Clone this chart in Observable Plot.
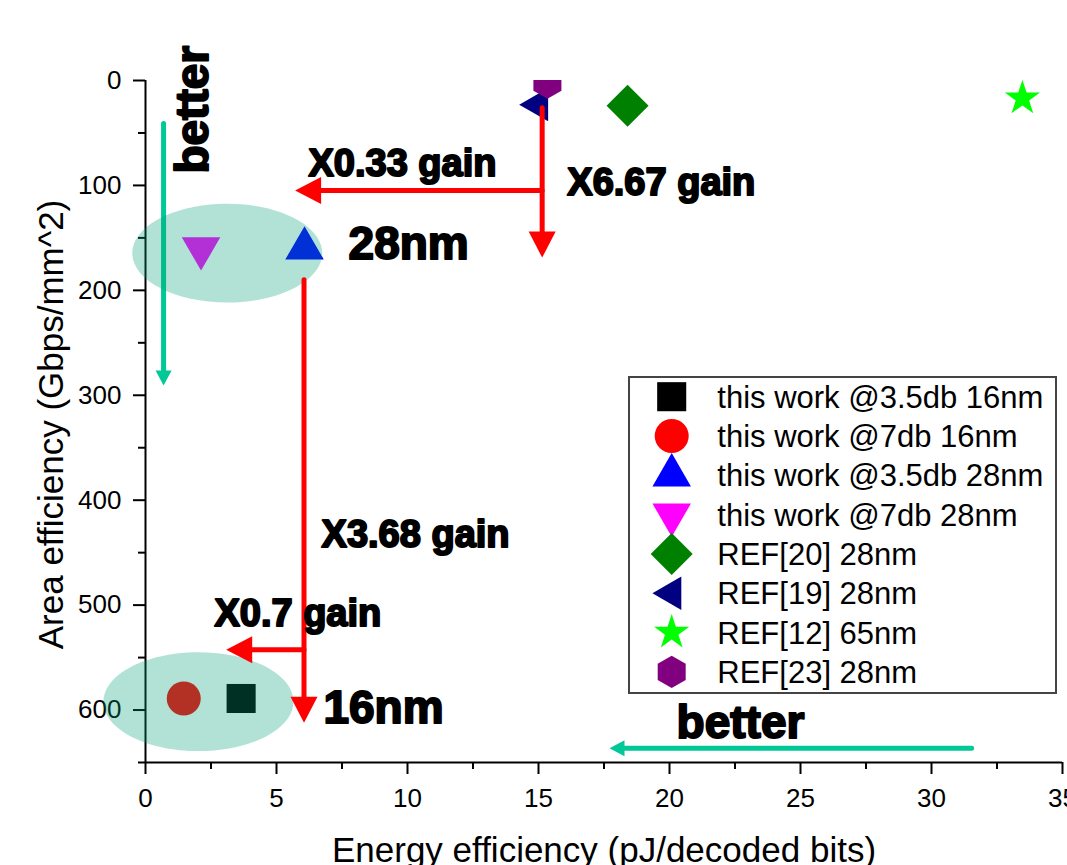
<!DOCTYPE html>
<html>
<head>
<meta charset="utf-8">
<script src="https://cdn.jsdelivr.net/npm/d3@7"></script>
<script src="https://cdn.jsdelivr.net/npm/@observablehq/plot@0.6"></script>
<style>
  body { margin: 0; background: #fff; }
  #wrap { position: relative; width: 1067px; height: 865px; overflow: hidden; }
  g[aria-label="annot"] text { letter-spacing: 2.6px; }
  g[aria-label="annot-big"] text { letter-spacing: 3.8px; }
  g[aria-label="red-arrows"], g[aria-label="red-heads"],
  g[aria-label="green-arrows"], g[aria-label="green-heads"] { filter: drop-shadow(2px 3px 2px rgba(0,0,0,0.3)); }
  g[aria-label="highlight"] { filter: blur(1.2px); }
</style>
</head>
<body>
<div id="wrap"></div>
<script>
// ---- axes ----
const xDomain = [0, 35];
const yDomain = [0, 650];
const xTicks = [0, 5, 10, 15, 20, 25, 30, 35];
const xMinorTicks = [2.5, 7.5, 12.5, 17.5, 22.5, 27.5, 32.5];
const yTicks = [0, 100, 200, 300, 400, 500, 600];
const yMinorTicks = [50, 150, 250, 350, 450, 550, 650];
const xTitle = "Energy efficiency (pJ/decoded bits)";
const yTitle = "Area efficiency (Gbps/mm^2)";

// ---- data ----
const seriesNames = [
  "this work @3.5db 16nm",
  "this work @7db 16nm",
  "this work @3.5db 28nm",
  "this work @7db 28nm",
  "REF[20] 28nm",
  "REF[19] 28nm",
  "REF[12] 65nm",
  "REF[23] 28nm"
];
const energy = [3.65, 1.46, 6.07, 2.12, 18.4, 15.0, 33.47, 15.34];
const area = [589, 589, 160, 160, 24, 23, 17, 2];

// ---- marker styles ----
const hexagon = {
  draw(ctx, size) {
    const rx = Math.sqrt(size / Math.PI), ry = rx * 2 / Math.sqrt(3), hy = ry / 2;
    ctx.moveTo(0, -ry); ctx.lineTo(rx, -hy); ctx.lineTo(rx, hy);
    ctx.lineTo(0, ry); ctx.lineTo(-rx, hy); ctx.lineTo(-rx, -hy); ctx.closePath();
  }
};
const markerSymbols = ["square", "circle", "triangle", "triangle", "square", "triangle", "star", hexagon];
const markerRotate = [0, 0, 0, 180, 45, -90, 0, 0];
const markerR = [16.4, 17, 14.3, 14.3, 16.75, 12.4, 11.06, 14];
const markerColors = ["#000000", "#ff0000", "#0000ff", "#ff00ff", "#008000", "#000080", "#00ff00", "#800080"];

// ---- highlight ellipses ----
const ellipseLabels = ["28nm group", "16nm group"];
const ellipseX = [3.12, 2.02];
const ellipseY = [164.5, 592];
const ellipseSymbol = {
  draw(ctx, size) {
    const rx = Math.sqrt(size / Math.PI), ry = rx * 0.52, k = 0.5523;
    ctx.moveTo(rx, 0);
    ctx.bezierCurveTo(rx, k * ry, k * rx, ry, 0, ry);
    ctx.bezierCurveTo(-k * rx, ry, -rx, k * ry, -rx, 0);
    ctx.bezierCurveTo(-rx, -k * ry, -k * rx, -ry, 0, -ry);
    ctx.bezierCurveTo(k * rx, -ry, rx, -k * ry, rx, 0);
    ctx.closePath();
  }
};

// ---- annotation arrows ----
const redArrowX1 = [15.14, 15.14, 6.05, 6.05];
const redArrowY1 = [26, 104.9, 190, 542.5];
const redArrowX2 = [15.14, 5.71, 6.05, 3.08];
const redArrowY2 = [168.8, 104.9, 612, 542.5];
const redArrowDir = [180, -90, 180, -90];

const greenArrowX1 = [0.69, 31.53];
const greenArrowY1 = [41, 636.3];
const greenArrowX2 = [0.69, 17.71];
const greenArrowY2 = [290.8, 636.3];
const greenArrowDir = [180, -90];

function headSymbol(w, L) {
  return { draw(ctx) { ctx.moveTo(0, 0); ctx.lineTo(-w / 2, L); ctx.lineTo(w / 2, L); ctx.closePath(); } };
}

// ---- annotation texts ----
const gainTexts = ["X0.33 gain", "X6.67 gain", "X3.68 gain", "X0.7 gain"];
const gainX = [6.22, 16.1, 6.72, 2.63];
const gainY = [90.6, 109.6, 445, 519.6];
const bigTexts = ["28nm", "16nm", "better"];
const bigX = [7.75, 6.79, 20.27];
const bigY = [169.7, 612, 626.4];
const vertTexts = ["better"];
const vertX = [2.37];
const vertY = [88.7];

const idx = seriesNames.map((_, i) => i);
const redIdx = redArrowX1.map((_, i) => i);
const greenIdx = greenArrowX1.map((_, i) => i);

const FONT = "'Liberation Sans', Arial, Helvetica, sans-serif";

const pointMarks = idx.map(i => Plot.dot([i], {
  x: j => energy[j], y: j => area[j],
  symbol: markerSymbols[i], r: markerR[i], rotate: markerRotate[i],
  fill: markerColors[i], clip: true
}));

const chart = Plot.plot({
  width: 1067, height: 865,
  marginTop: 80, marginBottom: 103, marginLeft: 145, marginRight: 5,
  x: { domain: xDomain },
  y: { domain: yDomain, reverse: true },
  style: { fontFamily: FONT, background: "white", color: "black", overflow: "visible" },
  marks: [
    Plot.axisX(xTicks, { anchor: "bottom", tickSize: 12, tickPadding: 14, fontSize: 26, strokeWidth: 2, label: null }),
    Plot.axisX(xMinorTicks, { anchor: "bottom", tickSize: 7, strokeWidth: 2, tickFormat: () => "", label: null }),
    Plot.axisY(yTicks, { anchor: "left", tickSize: 12, tickPadding: 12, fontSize: 26, strokeWidth: 2, label: null }),
    Plot.axisY(yMinorTicks, { anchor: "left", tickSize: 7, strokeWidth: 2, tickFormat: () => "", label: null }),
    Plot.ruleX([xDomain[0]], { strokeWidth: 2 }),
    Plot.ruleY([yDomain[1]], { strokeWidth: 2 }),

    // green "better" arrows
    Plot.arrow(greenIdx, {
      x1: i => greenArrowX1[i], y1: i => greenArrowY1[i], x2: i => greenArrowX2[i], y2: i => greenArrowY2[i],
      stroke: "#00c896", strokeWidth: 5, headLength: 0, insetEnd: 12, ariaLabel: "green-arrows"
    }),
    Plot.dot(greenIdx, {
      x: i => greenArrowX2[i], y: i => greenArrowY2[i], rotate: i => greenArrowDir[i],
      symbol: headSymbol(16, 15), r: 6, fill: "#00c896", ariaLabel: "green-heads"
    }),

    // data points
    ...pointMarks,

    // highlight ellipses
    Plot.dot(ellipseLabels, {
      x: (d, i) => ellipseX[i], y: (d, i) => ellipseY[i],
      symbol: ellipseSymbol, r: 95, fill: "#00a078", fillOpacity: 0.3, ariaLabel: "highlight"
    }),

    // red gain arrows
    Plot.arrow(redIdx, {
      x1: i => redArrowX1[i], y1: i => redArrowY1[i], x2: i => redArrowX2[i], y2: i => redArrowY2[i],
      stroke: "#ff0000", strokeWidth: 5, headLength: 0, insetEnd: 22, ariaLabel: "red-arrows"
    }),
    Plot.dot(redIdx, {
      x: i => redArrowX2[i], y: i => redArrowY2[i], rotate: i => redArrowDir[i],
      symbol: headSymbol(27, 26), r: 10, fill: "#ff0000", ariaLabel: "red-heads"
    }),

    // annotation texts
    Plot.text(gainTexts, {
      x: (d, i) => gainX[i], y: (d, i) => gainY[i], text: d => d,
      textAnchor: "start", lineAnchor: "bottom", fontSize: 38, fontWeight: "bold",
      fill: "black", stroke: "black", strokeWidth: 2, ariaLabel: "annot"
    }),
    Plot.text(bigTexts, {
      x: (d, i) => bigX[i], y: (d, i) => bigY[i], text: d => d,
      textAnchor: "start", lineAnchor: "bottom", fontSize: 46, fontWeight: "bold",
      fill: "black", stroke: "black", strokeWidth: 2, ariaLabel: "annot-big"
    }),
    Plot.text(vertTexts, {
      x: (d, i) => vertX[i], y: (d, i) => vertY[i], text: d => d, rotate: -90,
      textAnchor: "start", lineAnchor: "bottom", fontSize: 46, fontWeight: "bold",
      fill: "black", stroke: "black", strokeWidth: 2, ariaLabel: "annot-big"
    }),

    // axis titles
    Plot.text([xTitle], { text: d => d, frameAnchor: "bottom", textAnchor: "middle", dy: 99, lineAnchor: "bottom", fontSize: 35, fill: "black" }),
    Plot.text([yTitle], { text: d => d, frameAnchor: "left", textAnchor: "middle", rotate: -90, dx: -83, dy: 3, lineAnchor: "bottom", fontSize: 35, fill: "black" })
  ]
});

const wrap = document.getElementById("wrap");
wrap.appendChild(chart);

// ---- legend (inside plot area) ----
const symbolMap = { square: d3.symbolSquare, circle: d3.symbolCircle, triangle: d3.symbolTriangle, star: d3.symbolStar };
const legend = d3.create("svg")
  .attr("width", 430).attr("height", 320)
  .style("position", "absolute").style("left", "628px").style("top", "376px")
  .style("font-family", FONT);
legend.append("rect").attr("x", 1).attr("y", 1).attr("width", 427).attr("height", 316)
  .attr("fill", "white").attr("stroke", "#444").attr("stroke-width", 2);
const rowTop = 20.7, rowStep = 39.3;
idx.forEach(i => {
  const cy = rowTop + i * rowStep;
  const type = typeof markerSymbols[i] === "string" ? symbolMap[markerSymbols[i]] : markerSymbols[i];
  legend.append("path")
    .attr("d", d3.symbol(type, Math.PI * markerR[i] * markerR[i])())
    .attr("transform", `translate(43.7,${cy}) rotate(${markerRotate[i]})`)
    .attr("fill", markerColors[i]);
  legend.append("text")
    .attr("x", 89.3).attr("y", cy + 11)
    .attr("font-size", 31).attr("fill", "black")
    .text(seriesNames[i]);
});
wrap.appendChild(legend.node());
</script>
</body>
</html>
